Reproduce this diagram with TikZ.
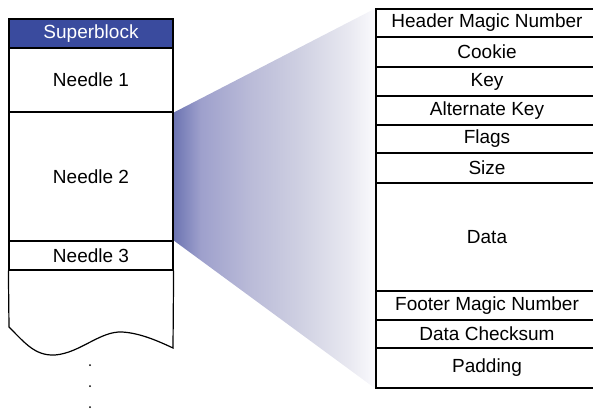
\documentclass[tikz,border=0pt]{standalone}
\usepackage{fontspec}
\setmainfont{Liberation Sans}
\usetikzlibrary{backgrounds}
\definecolor{sbblue}{RGB}{58,75,158}
\definecolor{fa}{RGB}{108,116,178}
\definecolor{fb}{RGB}{158,160,204}
\definecolor{fc}{RGB}{186,187,216}
\definecolor{fd}{RGB}{207,208,226}
\definecolor{fe}{RGB}{233,233,241}
\definecolor{ff}{RGB}{250,250,253}
\pgfdeclarehorizontalshading{fanshade}{100bp}{color(0bp)=(fa); color(25bp)=(fa); color(31.7bp)=(fb); color(44bp)=(fc); color(56.3bp)=(fd); color(68.6bp)=(fe); color(75bp)=(ff); color(100bp)=(ff)}
\begin{document}
\begin{tikzpicture}[x=1pt,y=-1pt,
  cell/.style={draw=black,line width=1.2pt,rectangle,inner sep=0pt,font=\fontsize{19}{21}\selectfont},
  lcell/.style={cell,minimum width=164pt},
  rcell/.style={cell,minimum width=222pt},
  wall/.style={draw=black,line width=1.2pt}]
\useasboundingbox (0,0) rectangle (593,411);
% left column
\node[lcell,fill=sbblue,text=white,minimum height=29pt] (sb) at (91,33.5) {Superblock};
\node[lcell,minimum height=64pt] (n1) at (91,80) {Needle 1};
\node[lcell,minimum height=129pt] (n2) at (91,176.5) {Needle 2};
\node[lcell,minimum height=29pt] (n3) at (91,255.5) {Needle 3};
\coordinate (bl) at (9,327);
\coordinate (br) at (173,348);
\draw[wall] (n3.south west) -- (bl)
  .. controls (25,343) and (35,356) .. (55,355)
  .. controls (80,353) and (100,331) .. (122,332)
  .. controls (140,333) and (158,341) .. (br) -- (n3.south east);
% dots
\node[circle,fill=black,inner sep=0pt,minimum size=2pt] (d1) at (90,365) {};
\node[circle,fill=black,inner sep=0pt,minimum size=2pt] (d2) at (90,386) {};
\node[circle,fill=black,inner sep=0pt,minimum size=2pt] (d3) at (90,407) {};
% right column
\node[rcell,minimum height=28pt] (hm) at (487,23) {Header Magic Number};
\node[rcell,minimum height=30pt] (ck) at (487,52) {Cookie};
\node[rcell,minimum height=29pt] (ky) at (487,81.5) {Key};
\node[rcell,minimum height=29pt] (ak) at (487,110.5) {Alternate Key};
\node[rcell,minimum height=28pt] (fl) at (487,139) {Flags};
\node[rcell,minimum height=30pt] (sz) at (487,168) {Size};
\node[rcell,minimum height=108pt] (dt) at (487,237) {Data};
\node[rcell,minimum height=29pt] (fm) at (487,305.5) {Footer Magic Number};
\node[rcell,minimum height=28pt] (cs) at (487,334) {Data Checksum};
\node[rcell,minimum height=40pt] (pd) at (487,368) {Padding};
% fan
\begin{scope}[on background layer]
\shade[shading=fanshade]
  (n1.south east) -- (hm.north west) -- (pd.south west) -- (n3.north east) -- cycle;
\end{scope}
\end{tikzpicture}
\end{document}
